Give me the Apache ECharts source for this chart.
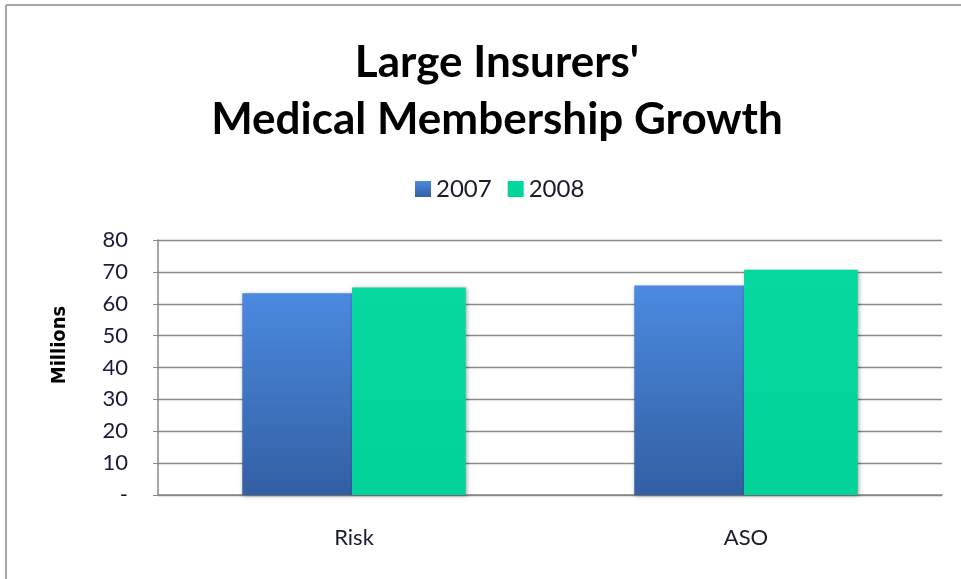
<!DOCTYPE html>
<html><head><meta charset="utf-8">
<script src="https://cdn.jsdelivr.net/npm/echarts@6/dist/echarts.min.js"></script>
<style>html,body{margin:0;padding:0;background:#fff}#c{width:961px;height:579px}</style>
</head><body><div id="c"></div>
<script>
var categories = ['Risk', 'ASO'];
var seriesNames = ['2007', '2008'];
var values2007 = [63.3, 65.7];
var values2008 = [65.1, 70.7];
var yTicks = [0, 10, 20, 30, 40, 50, 60, 70, 80];
var yAxisTitle = 'Millions';

var chart = echarts.init(document.getElementById('c'), null, {renderer: 'canvas'});
var font = 'Lato, "Open Sans", sans-serif';
var blueGrad = new echarts.graphic.LinearGradient(0, 0, 0, 1, [
  {offset: 0, color: '#4b8ae0'}, {offset: 1, color: '#335fa3'}]);
var greenGrad = new echarts.graphic.LinearGradient(0, 0, 0, 1, [
  {offset: 0, color: '#06d9a0'}, {offset: 1, color: '#00d29a'}]);
chart.setOption({
  animation: false,
  backgroundColor: '#ffffff',
  graphic: [
    {type: 'line', shape: {x1: 6, y1: 5, x2: 961, y2: 5}, style: {stroke: '#a6a6a6', lineWidth: 2}},
    {type: 'line', shape: {x1: 6, y1: 5, x2: 6, y2: 579}, style: {stroke: '#a6a6a6', lineWidth: 2}},
    {type: 'text', x: 60, y: 345, rotation: Math.PI / 2,
     style: {text: yAxisTitle, fill: '#000', font: 'bold 20px "DejaVu Sans Condensed", "DejaVu Sans", sans-serif',
             align: 'center', verticalAlign: 'middle'}}
  ],
  title: {
    text: "Large Insurers'\nMedical Membership Growth",
    left: 492, textAlign: 'center', top: 29,
    textStyle: {fontFamily: font, fontWeight: 'bold', fontSize: 44, lineHeight: 57, color: '#000'}
  },
  legend: {
    data: seriesNames, top: 172, left: 410, itemWidth: 16, itemHeight: 16, itemGap: 16,
    icon: 'rect',
    textStyle: {fontFamily: font, fontSize: 24, color: '#1a1a2e'}
  },
  grid: {left: 158, right: 19, top: 240, bottom: 84, containLabel: false},
  xAxis: {
    type: 'category', data: categories,
    axisLine: {lineStyle: {color: '#888', width: 1.5}},
    axisTick: {show: false},
    axisLabel: {fontFamily: font, fontSize: 22, color: '#1a1a2e', margin: 32}
  },
  yAxis: {
    type: 'value', min: 0, max: 80, interval: 10,
    axisLine: {show: true, lineStyle: {color: '#888', width: 1.5}},
    axisTick: {show: true, length: 5, lineStyle: {color: '#888'}},
    splitLine: {lineStyle: {color: '#8a8a8a', width: 1.3}},
    axisLabel: {fontFamily: font, fontSize: 22, color: '#1a1a3a', margin: 30,
      formatter: function (v) { return yTicks.indexOf(v) === 0 ? '-' : String(v); }}
  },
  series: [
    {name: seriesNames[0], type: 'bar', data: values2007, barWidth: '28%', barGap: '0%',
     itemStyle: {color: blueGrad, shadowColor: 'rgba(0,0,0,0.35)', shadowBlur: 4, shadowOffsetX: 1, shadowOffsetY: 1}},
    {name: seriesNames[1], type: 'bar', data: values2008, barWidth: '29%', barGap: '0%',
     itemStyle: {color: greenGrad, shadowColor: 'rgba(0,0,0,0.35)', shadowBlur: 4, shadowOffsetX: 1, shadowOffsetY: 1}}
  ]
});
</script></body></html>
